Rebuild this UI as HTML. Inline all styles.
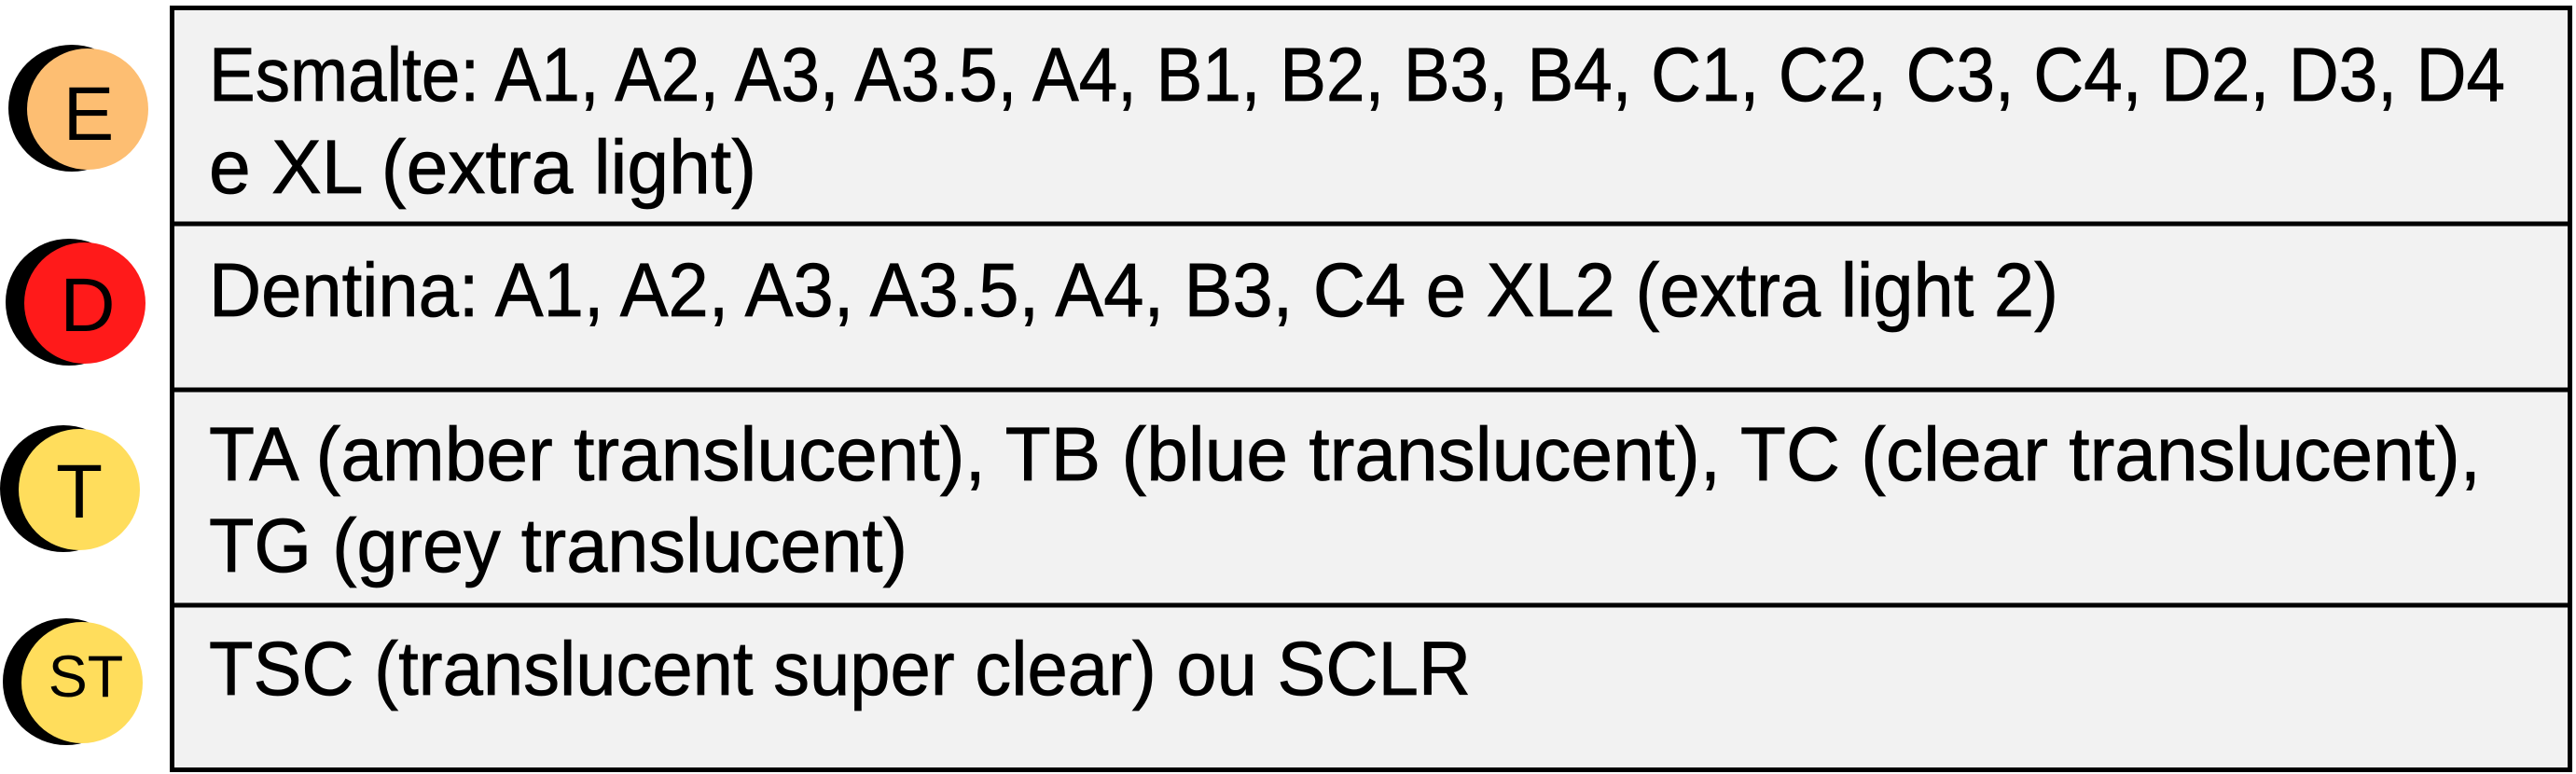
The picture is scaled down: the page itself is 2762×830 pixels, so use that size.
<!DOCTYPE html>
<html><head><meta charset="utf-8"><style>
html,body{margin:0;padding:0;background:#fff;}
svg{display:block;}
text{font-family:"Liberation Sans",sans-serif;}
</style></head><body>
<svg width="2762" height="830" viewBox="0 0 2762 830" xmlns="http://www.w3.org/2000/svg">
<rect x="0" y="0" width="2762" height="830" fill="#fff"/>
<rect x="184.5" y="8.5" width="2571" height="817" fill="#f2f2f2" stroke="#000" stroke-width="5"/>
<line x1="184" y1="240" x2="2756" y2="240" stroke="#000" stroke-width="5"/>
<line x1="184" y1="418" x2="2756" y2="418" stroke="#000" stroke-width="5"/>
<line x1="184" y1="649" x2="2756" y2="649" stroke="#000" stroke-width="5"/>

<g font-size="82" fill="#000" stroke="#000" stroke-width="0.8">
<text x="224" y="108" textLength="2462" lengthAdjust="spacingAndGlyphs">Esmalte: A1, A2, A3, A3.5, A4, B1, B2, B3, B4, C1, C2, C3, C4, D2, D3, D4</text>
<text x="224" y="207" textLength="587" lengthAdjust="spacingAndGlyphs">e XL (extra light)</text>
<text x="224" y="339" textLength="1983" lengthAdjust="spacingAndGlyphs">Dentina: A1, A2, A3, A3.5, A4, B3, C4 e XL2 (extra light 2)</text>
<text x="224" y="515" textLength="2436" lengthAdjust="spacingAndGlyphs">TA (amber translucent), TB (blue translucent), TC (clear translucent),</text>
<text x="224" y="613" textLength="749" lengthAdjust="spacingAndGlyphs">TG (grey translucent)</text>
<text x="224" y="745" textLength="1353" lengthAdjust="spacingAndGlyphs">TSC (translucent super clear) ou SCLR</text>
</g>

<circle cx="77" cy="116" r="68" fill="#000"/>
<circle cx="94" cy="117" r="65" fill="#fdbe72"/>
<text x="95" y="150" font-size="82" text-anchor="middle">E</text>

<circle cx="74" cy="324" r="68" fill="#000"/>
<circle cx="91" cy="325" r="65" fill="#ff1a1a"/>
<text x="94" y="355" font-size="82" text-anchor="middle">D</text>

<circle cx="68" cy="524" r="68" fill="#000"/>
<circle cx="85" cy="525" r="65" fill="#ffdd5c"/>
<text x="85" y="555" font-size="82" text-anchor="middle">T</text>

<circle cx="71" cy="731" r="68" fill="#000"/>
<circle cx="88" cy="732" r="65" fill="#ffdd5c"/>
<text x="92" y="747" font-size="63" text-anchor="middle">ST</text>
</svg>
</body></html>
